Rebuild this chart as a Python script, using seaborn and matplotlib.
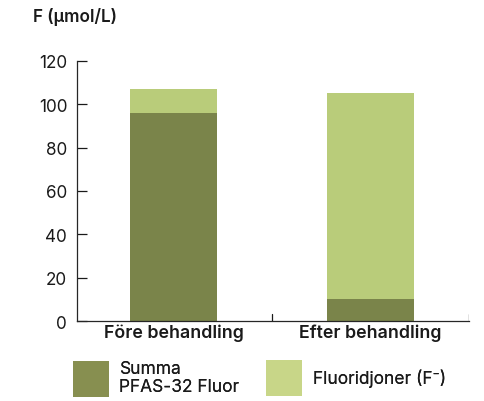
import numpy as np
import pandas as pd
import matplotlib.pyplot as plt
import seaborn as sns
from matplotlib.patches import Patch

# values (µmol/L F)
categories = ["Före behandling", "Efter behandling"]
pfas_fluor = [96, 10]
fluoridjoner = [11, 95]
legend_labels = ["Summa\nPFAS-32 Fluor", "Fluoridjoner (F\u207b)"]

dark = "#7a844a"
light = "#b9cc7a"
ink = "#1a1a1a"

sns.set_style("ticks")
plt.rcParams['font.family'] = ['Inter', 'DejaVu Sans']

df = pd.DataFrame({
    "kategori": categories,
    "pfas": pfas_fluor,
    "total": np.add(pfas_fluor, fluoridjoner),
})

fig = plt.figure(figsize=(4.84, 4.02), dpi=100)
ax = fig.add_axes([0.159, 0.199, 0.81, 0.647])

# stacked bars: total (light) behind, PFAS part (dark) on top
sns.barplot(data=df, x="kategori", y="total", color=light, saturation=1,
            width=0.44, linewidth=0, ax=ax)
sns.barplot(data=df, x="kategori", y="pfas", color=dark, saturation=1,
            width=0.44, linewidth=0, ax=ax)

ax.set_ylim(0, 120)
ax.set_xlim(-0.49, 1.5)
ax.set_yticks(range(0, 121, 20))
ax.set_xticks([0, 1])
ax.set_xticklabels(categories, fontweight="semibold", fontsize=12.8, color=ink)
ax.tick_params(axis="x", length=0, pad=2)
ax.tick_params(axis="y", direction="in", labelsize=12.3, length=7, width=0.9,
               colors=ink, pad=7)
for b in [0.5, 1.5]:
    ax.axvline(b, ymin=0, ymax=0.025, color=ink, lw=0.9)
ax.set_xlabel("")
ax.set_ylabel("")
sns.despine(ax=ax)
ax.spines["left"].set_linewidth(0.9)
ax.spines["bottom"].set_linewidth(0.9)

fig.text(0.068, 0.957, "F (µmol/L)", fontsize=12.3, fontweight="semibold",
         color=ink, va="center")

handles = [Patch(facecolor="#878f50", edgecolor="none"),
           Patch(facecolor="#c8d688", edgecolor="none")]
anchors = [(0.151, 0.102), (0.55, 0.102)]
for h, lab, anc in zip(handles, legend_labels, anchors):
    leg = fig.legend([h], [lab], loc="upper left", bbox_to_anchor=anc,
                     frameon=False, fontsize=12.5, handlelength=2.07,
                     handleheight=2.81, handletextpad=0.6, borderaxespad=0,
                     borderpad=0, labelspacing=0)
    for t in leg.get_texts():
        t.set_color(ink)
        t.set_linespacing(1.05)
    fig.add_artist(leg)

fig.savefig("out.png", dpi=100)
